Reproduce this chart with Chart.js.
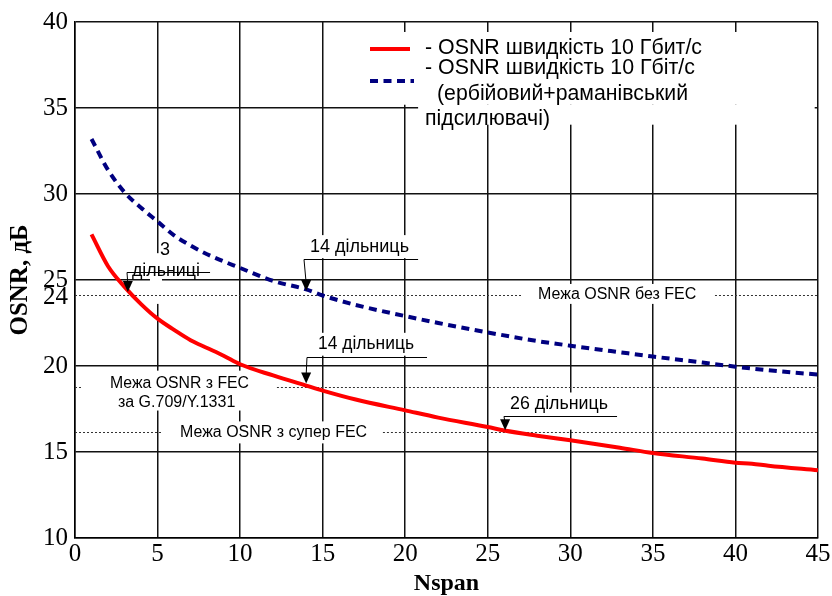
<!DOCTYPE html>
<html>
<head>
<meta charset="utf-8">
<script src="https://cdn.jsdelivr.net/npm/chart.js@4.4.0/dist/chart.umd.min.js"></script>
<style>
  html, body { margin: 0; padding: 0; background: #fff; }
</style>
</head>
<body>
<canvas id="chart" width="832" height="596"></canvas>
<script>
// values
const spansRed = [1, 2, 3, 4, 5, 6, 7, 8, 9, 10, 12, 14, 15, 17, 20, 22, 25, 26, 28, 30, 33, 35, 38, 40, 41, 42, 45];
const osnrRed = [27.65, 25.8, 24.6, 23.6, 22.75, 22.1, 21.5, 21.05, 20.6, 20.1, 19.45, 18.86, 18.57, 18.05, 17.42, 17.0, 16.45, 16.25, 15.95, 15.68, 15.25, 14.94, 14.62, 14.38, 14.32, 14.2, 13.94];
const spansBlue = [1, 2, 3, 4, 5, 6, 7, 8, 10, 12, 14, 15, 17, 20, 22, 25, 28, 30, 33, 35, 38, 40, 42, 45];
const osnrBlue = [33.2, 31.4, 30.1, 29.2, 28.4, 27.6, 27.0, 26.5, 25.7, 24.95, 24.45, 24.1, 23.55, 22.9, 22.5, 21.95, 21.45, 21.18, 20.8, 20.55, 20.2, 19.96, 19.75, 19.5];
const seriesNames = ["- OSNR швидкість 10 Гбит/с", "- OSNR швидкість 10 Гбіт/с", "(ербійовий+раманівський", "підсилювачі)"];
const yExtraTick = 24;
const limitValues = [24.15, 18.75, 16.15];
const limitNames = [["Межа OSNR без FEC"], ["Межа OSNR з FEC", "за G.709/Y.1331"], ["Межа OSNR з супер FEC"]];

// annotation placement (data units)
const limitGaps = [[27.07, 38.76], [0.48, 12.23], [5.33, 18.65]];
const limitText = [
  [[28.04, 37.67, 24.17]],
  [[2.12, 10.54, 18.98], [2.6, 9.99, 17.88]],
  [[6.36, 17.69, 16.14]]
];
const masks = [
  [17.26, 44.8, 39.42, 35.19],
  [20.78, 44.8, 35.19, 34.03],
  [4.54, 5.27, 26.56, 23.61],
  [14.23, 20.9, 27.61, 26.27],
  [14.54, 21.2, 21.93, 20.6],
  [27.56, 38.16, 24.77, 23.61],
  [1.21, 11.5, 19.73, 17.41],
  [5.87, 18.17, 16.78, 15.5],
  [26.04, 32.7, 18.46, 16.3]
];
const notes = [
  ["3", 5.15, 5.88, 26.74, 18],
  ["дільниці", 3.45, 7.57, 25.52, 18],
  ["14 дільниць", 14.23, 20.29, 26.91, 18],
  ["14 дільниць", 14.72, 20.53, 21.29, 18],
  ["26 дільниць", 26.35, 32.28, 17.76, 18]
];
// leader: [xStart, xEnd, yLeader, xTip, yTip]
const leaders = [
  [3.15, 8.18, 25.46, 3.2, 24.3],
  [13.87, 20.78, 26.22, 14.0, 24.36],
  [14.05, 21.32, 20.54, 14.0, 18.98],
  [25.98, 32.83, 17.07, 26.05, 16.26]
];

function fitText(ctx, str, x, y, w) {
  ctx.fillText(str, x, y, w);
}

const annot = {
  id: "annot",
  beforeDatasetsDraw(chart) {
    const { ctx, scales: { x, y } } = chart;
    ctx.save();
    ctx.fillStyle = "#fff";
    masks.forEach(m => {
      const x0 = x.getPixelForValue(m[0]), x1 = x.getPixelForValue(m[1]);
      const y0 = y.getPixelForValue(m[2]), y1 = y.getPixelForValue(m[3]);
      ctx.fillRect(x0, y0, x1 - x0, y1 - y0);
    });
    // dotted limit lines
    ctx.strokeStyle = "#333";
    ctx.lineWidth = 1;
    ctx.setLineDash([2, 2]);
    limitValues.forEach((v, i) => {
      const py = Math.round(y.getPixelForValue(v)) + 0.5;
      const g = limitGaps[i];
      ctx.beginPath();
      ctx.moveTo(x.getPixelForValue(0), py);
      ctx.lineTo(x.getPixelForValue(g[0]), py);
      ctx.moveTo(x.getPixelForValue(g[1]), py);
      ctx.lineTo(x.getPixelForValue(45), py);
      ctx.stroke();
    });
    ctx.restore();
  },
  afterDatasetsDraw(chart) {
    const { ctx, scales: { x, y } } = chart;
    ctx.save();
    ctx.fillStyle = "#000";
    ctx.textBaseline = "middle";
    ctx.textAlign = "left";

    // limit labels
    ctx.font = "16px 'Liberation Sans', Arial, sans-serif";
    limitNames.forEach((lines, i) => {
      lines.forEach((s, j) => {
        const t = limitText[i][j];
        const x0 = x.getPixelForValue(t[0]), x1 = x.getPixelForValue(t[1]);
        fitText(ctx, s, x0, y.getPixelForValue(t[2]), x1 - x0);
      });
    });

    // span notes
    notes.forEach(n => {
      ctx.font = n[4] + "px 'Liberation Sans', Arial, sans-serif";
      const x0 = x.getPixelForValue(n[1]), x1 = x.getPixelForValue(n[2]);
      fitText(ctx, n[0], x0, y.getPixelForValue(n[3]), x1 - x0);
    });

    // leaders with arrows
    ctx.strokeStyle = "#000";
    ctx.lineWidth = 1;
    leaders.forEach(l => {
      const xs = x.getPixelForValue(l[0]), xe = x.getPixelForValue(l[1]);
      const yl = Math.round(y.getPixelForValue(l[2])) + 0.5;
      const xt = x.getPixelForValue(l[3]), yt = y.getPixelForValue(l[4]);
      ctx.beginPath();
      ctx.moveTo(xe, yl);
      ctx.lineTo(xs, yl);
      ctx.lineTo(xt, yt - 8);
      ctx.stroke();
      ctx.beginPath();
      ctx.moveTo(xt, yt);
      ctx.lineTo(xt - 5, yt - 11);
      ctx.lineTo(xt + 5, yt - 11);
      ctx.closePath();
      ctx.fill();
    });

    // legend
    const a = chart.chartArea;
    const lx = a.left + 295;
    ctx.lineWidth = 4;
    ctx.strokeStyle = "#ff0000";
    ctx.beginPath();
    ctx.moveTo(lx, a.top + 27);
    ctx.lineTo(lx + 40, a.top + 27);
    ctx.stroke();
    ctx.strokeStyle = "#000080";
    ctx.setLineDash([8, 5.5]);
    ctx.beginPath();
    ctx.moveTo(lx, a.top + 59);
    ctx.lineTo(lx + 44, a.top + 59);
    ctx.stroke();
    ctx.setLineDash([]);

    ctx.font = "21.5px 'Liberation Sans', Arial, sans-serif";
    const legendPos = [[350, 26, 277], [350, 46, 270], [362, 72, 251], [350, 97, 125]];
    seriesNames.forEach((s, i) => {
      const p = legendPos[i];
      fitText(ctx, s, a.left + p[0], a.top + p[1], p[2]);
    });
    ctx.restore();
  }
};

const serif = "'Liberation Serif', 'Times New Roman', serif";

new Chart(document.getElementById("chart"), {
  type: "line",
  data: {
    datasets: [
      {
        label: seriesNames[0],
        data: spansRed.map((s, i) => ({ x: s, y: osnrRed[i] })),
        borderColor: "#ff0000",
        borderWidth: 4,
        pointRadius: 0,
        cubicInterpolationMode: "monotone",
        fill: false
      },
      {
        label: seriesNames[1],
        data: spansBlue.map((s, i) => ({ x: s, y: osnrBlue[i] })),
        borderColor: "#000080",
        borderWidth: 4,
        borderDash: [8, 5.5],
        pointRadius: 0,
        cubicInterpolationMode: "monotone",
        fill: false
      }
    ]
  },
  options: {
    responsive: false,
    animation: false,
    layout: { padding: { top: 20, right: 14, left: 0, bottom: 0 } },
    plugins: { legend: { display: false }, tooltip: { enabled: false } },
    scales: {
      x: {
        type: "linear",
        min: 0,
        max: 45,
        afterFit: s => { s.height = 58; },
        ticks: { stepSize: 5, padding: 1, color: "#000", font: { family: serif, size: 25 } },
        grid: { color: "#111", lineWidth: 1.5, drawTicks: false },
        border: { color: "#000", width: 1.5 },
        title: { display: true, text: "Nspan", color: "#000", padding: 0, font: { family: serif, size: 24, weight: "bold", lineHeight: 1 } }
      },
      y: {
        min: 10,
        max: 40,
        afterFit: s => { s.width = 75; },
        afterBuildTicks: s => {
          s.ticks.push({ value: yExtraTick });
          s.ticks.sort((p, q) => p.value - q.value);
        },
        ticks: { stepSize: 5, padding: 7, color: "#000", font: { family: serif, size: 25 } },
        grid: {
          color: c => (c.tick && c.tick.value === yExtraTick ? "rgba(0,0,0,0)" : "#111"),
          lineWidth: 1.5,
          drawTicks: false
        },
        border: { color: "#000", width: 1.5 },
        title: { display: true, text: "OSNR, дБ", color: "#000", padding: 8, font: { family: serif, size: 25, weight: "bold", lineHeight: 1 } }
      }
    }
  },
  plugins: [annot]
});
</script>
</body>
</html>
